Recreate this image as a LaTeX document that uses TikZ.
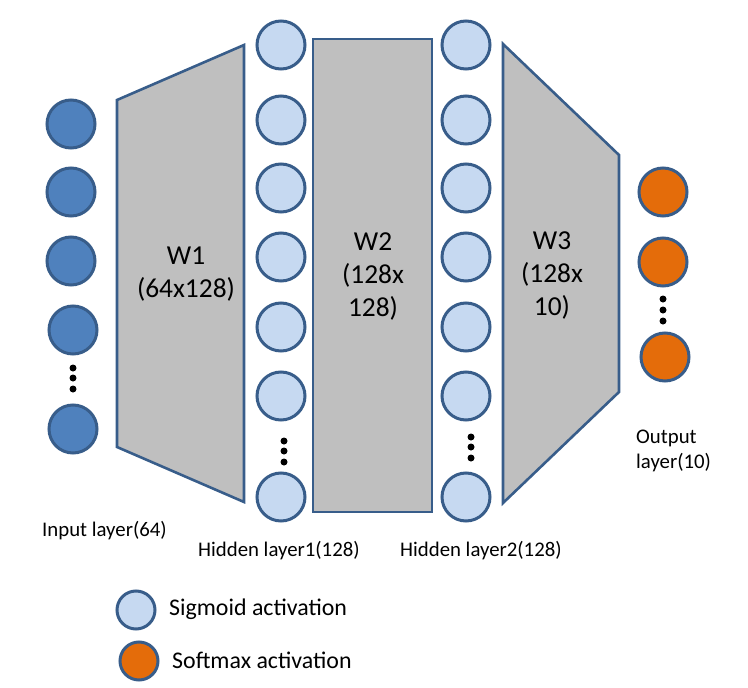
\documentclass[tikz,border=0pt]{standalone}
\usepackage{fontspec}
\setmainfont{Carlito}
\definecolor{inblue}{HTML}{4F81BD}
\definecolor{hidblue}{HTML}{C6D9F1}
\definecolor{outorange}{HTML}{E46C0A}
\definecolor{edgeblue}{HTML}{385D8A}
\definecolor{wgray}{HTML}{BFBFBF}
\begin{document}
\begin{tikzpicture}[x=1pt,y=-1pt,
  neuron/.style={circle,draw=edgeblue,line width=3pt,minimum size=48pt,inner sep=0pt},
  inneuron/.style={neuron,fill=inblue},
  hidneuron/.style={neuron,fill=hidblue},
  outneuron/.style={neuron,fill=outorange},
  legneuron/.style={circle,draw=edgeblue,line width=3pt,minimum size=38pt,inner sep=0pt},
  weight/.style={draw=edgeblue,fill=wgray,line width=2.6pt,line join=miter},
  wlabel/.style={font=\fontsize{27.4}{33}\selectfont,align=center,inner sep=0pt},
  llabel/.style={font=\fontsize{20.8}{24.4}\selectfont,align=left,inner sep=0pt},
  leglabel/.style={font=\fontsize{23.9}{28}\selectfont,inner sep=0pt,anchor=west},
  vdot/.style={circle,fill=black,inner sep=0pt,minimum size=7pt}]
\useasboundingbox (0,0) rectangle (748,688);

% weight blocks
\path[weight] (117,100) -- (244,45) -- (244,502) -- (117,447) -- cycle;
\path[weight] (313,39) rectangle (432,512);
\path[weight] (503,44) -- (619,155) -- (619,392) -- (503,503) -- cycle;

% weight labels
\node[wlabel] (w1) at (186,274) {W1\\(64x128)};
\node[wlabel] (w2) at (373,277) {W2\\(128x\\128)};
\node[wlabel] (w3) at (552,276) {W3\\(128x\\10)};

% input layer
\node[inneuron] (i1) at (71,124) {};
\node[inneuron] (i2) at (71,192) {};
\node[inneuron] (i3) at (71,261) {};
\node[inneuron] (i4) at (73,330) {};
\node[inneuron] (i5) at (73,429) {};
\node[vdot] (id1) at (73,368) {};
\node[vdot] (id2) at (73,378) {};
\node[vdot] (id3) at (73,389) {};

% hidden layer 1
\foreach \n/\y in {1/45,2/120,3/188,4/257,5/327,6/396,7/497}
  \node[hidneuron] (ha\n) at (281,\y) {};
\node[vdot] (had1) at (284,441) {};
\node[vdot] (had2) at (284,451) {};
\node[vdot] (had3) at (284,462) {};

% hidden layer 2
\foreach \n/\y in {1/45,2/120,3/188,4/257,5/327,6/396,7/497}
  \node[hidneuron] (hb\n) at (466,\y) {};
\node[vdot] (hbd1) at (471,437) {};
\node[vdot] (hbd2) at (471,447) {};
\node[vdot] (hbd3) at (471,458) {};

% output layer
\node[outneuron] (o1) at (663,192) {};
\node[outneuron] (o2) at (663,262) {};
\node[outneuron] (o3) at (665,357) {};
\node[vdot] (od1) at (663,299) {};
\node[vdot] (od2) at (663,310) {};
\node[vdot] (od3) at (663,321) {};

% layer labels
\node[llabel,anchor=west] (lin) at (42,531) {Input layer(64)};
\node[llabel,anchor=west] (lh1) at (198,551) {Hidden layer1(128)};
\node[llabel,anchor=west] (lh2) at (400,551) {Hidden layer2(128)};
\node[llabel,anchor=west] (lout) at (636,451) {Output\\layer(10)};

% legend
\node[legneuron,fill=hidblue] (lg1) at (136,610) {};
\node[leglabel] (lgt1) at (169,609) {Sigmoid activation};
\node[legneuron,fill=outorange] (lg2) at (139,661) {};
\node[leglabel] (lgt2) at (172,660) {Softmax activation};
\end{tikzpicture}
\end{document}
